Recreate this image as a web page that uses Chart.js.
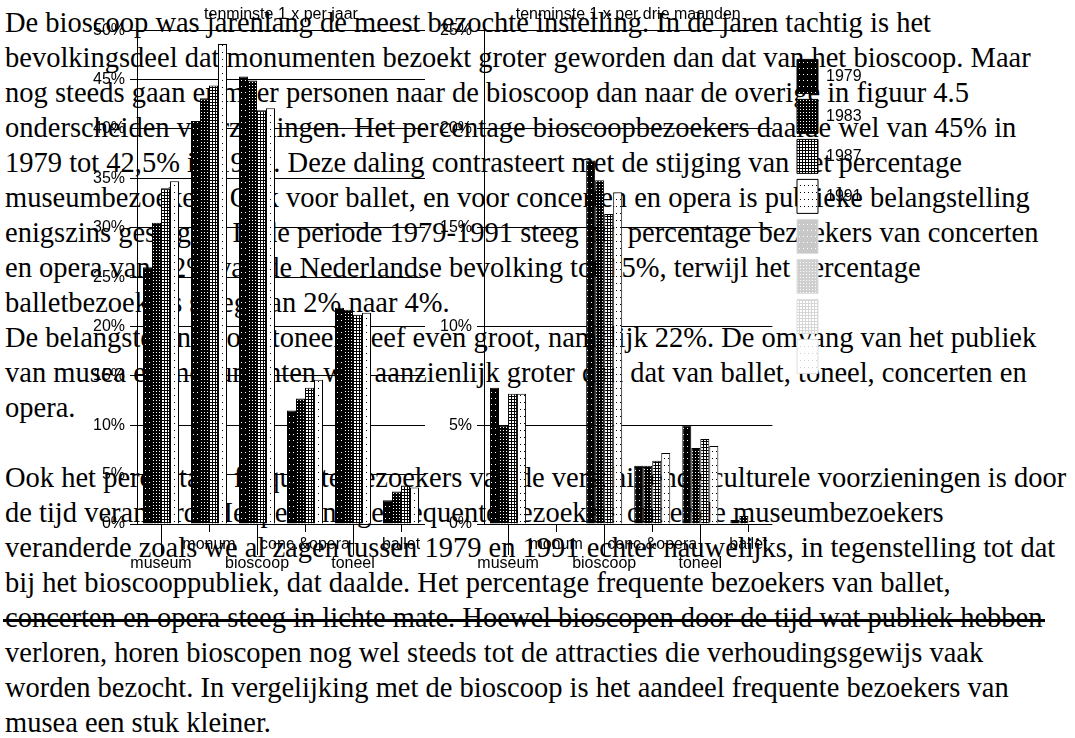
<!DOCTYPE html>
<html>
<head>
<meta charset="utf-8">
<script src="https://cdn.jsdelivr.net/npm/chart.js@4.4.0/dist/chart.umd.min.js"></script>
<style>
  body { margin: 0; background: #fff; width: 1075px; height: 738px; overflow: hidden; position: relative; }
  #tekst { position: absolute; left: 5px; top: 5px; font-family: 'Liberation Serif', 'Times New Roman', serif;
           font-size: 28.5px; line-height: 35px; color: #000; white-space: pre; }
  #streep { position: absolute; left: 3px; top: 619px; width: 1042px; height: 3px; background: #000; }
  canvas { position: absolute; top: 0; }
</style>
</head>
<body>
<div id="tekst">De bioscoop was jarenlang de meest bezochte instelling. In de jaren tachtig is het
bevolkingsdeel dat monumenten bezoekt groter geworden dan dat van het bioscoop. Maar
nog steeds gaan er meer personen naar de bioscoop dan naar de overige in figuur 4.5
onderscheiden voorzieningen. Het percentage bioscoopbezoekers daalde wel van 45% in
1979 tot 42,5% in 1991. Deze daling contrasteert met de stijging van het percentage
museumbezoekers. Ook voor ballet, en voor concerten en opera is publieke belangstelling
enigszins gestegen. In de periode 1979-1991 steeg het percentage bezoekers van concerten
en opera van 12% van de Nederlandse bevolking tot 15%, terwijl het percentage
balletbezoekers steeg van 2% naar 4%.
De belangstelling voor toneel bleef even groot, namelijk 22%. De omvang van het publiek
van musea en monumenten was aanzienlijk groter dan dat van ballet, toneel, concerten en
opera.

Ook het percentage frequente bezoekers van de verschillende culturele voorzieningen is door
de tijd veranderd. Het percentage frequente bezoekers onder de museumbezoekers
veranderde zoals we al zagen tussen 1979 en 1991 echter nauwelijks, in tegenstelling tot dat
bij het bioscooppubliek, dat daalde. Het percentage frequente bezoekers van ballet,
concerten en opera steeg in lichte mate. Hoewel bioscopen door de tijd wat publiek hebben
verloren, horen bioscopen nog wel steeds tot de attracties die verhoudingsgewijs vaak
worden bezocht. In vergelijking met de bioscoop is het aandeel frequente bezoekers van
musea een stuk kleiner.</div>
<div id="streep"></div>
<canvas id="jaar" width="360" height="590" style="left:80px"></canvas>
<canvas id="kwartaal" width="450" height="590" style="left:430px"></canvas>
<script>
// categorieen en jaren
const categories = ['museum', 'monum', 'bioscoop', 'conc.&opera', 'toneel', 'ballet'];
const years = ['1979', '1983', '1987', '1991'];

// tenminste 1 x per jaar (%)
const jaar1979 = [26.0, 40.8, 45.3, 11.5, 21.9, 2.4];
const jaar1983 = [30.5, 43.1, 44.9, 12.7, 21.7, 3.3];
const jaar1987 = [34.0, 44.4, 41.9, 13.8, 21.2, 3.9];
const jaar1991 = [34.7, 48.6, 42.1, 14.6, 21.4, 3.7];

// tenminste 1 x per drie maanden (%)
const kw1979 = [6.9, null, 18.4, 2.95, 5.0, 0.2];
const kw1983 = [5.0, null, 17.4, 2.95, 3.85, 0.4];
const kw1987 = [6.6, null, 15.7, 3.2, 4.3, 0];
const kw1991 = [6.6, null, 16.8, 3.6, 3.95, 0];

Chart.defaults.font.family = "'Liberation Sans', Arial, sans-serif";
Chart.defaults.font.size = 16;
Chart.defaults.color = '#000';

// small tiled fills that imitate the printed hatching
function pattern(w, h, bg, fg, dots) {
  const c = document.createElement('canvas');
  c.width = w; c.height = h;
  const g = c.getContext('2d');
  g.fillStyle = bg; g.fillRect(0, 0, w, h);
  g.fillStyle = fg;
  dots.forEach(d => g.fillRect(d[0], d[1], d[2] || 1, d[3] || 1));
  return g.createPattern(c, 'repeat');
}
const fills = [
  pattern(4, 6, '#000', '#fff', [[1, 2]]),
  pattern(3, 3, '#000', '#fff', [[1, 1]]),
  pattern(3, 3, '#000', '#fff', [[1, 1, 2, 2]]),
  pattern(4, 7, '#fff', '#000', [[2, 3]])
];
const faded = [
  pattern(4, 6, '#c8c8c8', '#fff', [[1, 2]]),
  pattern(3, 3, '#cfcfcf', '#fff', [[1, 1]]),
  pattern(3, 3, '#d6d6d6', '#fff', [[1, 1, 2, 2]]),
  pattern(4, 7, '#fff', '#d0d0d0', [[2, 3]])
];

// tick marks under the axis: long for the lower label row, short for the upper one
const xTicks = {
  id: 'xTicks',
  afterDraw(chart) {
    const x = chart.scales.x, ctx = chart.ctx, b = chart.chartArea.bottom;
    ctx.save();
    ctx.strokeStyle = '#000';
    ctx.lineWidth = 1;
    x.ticks.forEach((t, i) => {
      const px = Math.round(x.getPixelForTick(i)) + 0.5;
      ctx.beginPath();
      ctx.moveTo(px, b);
      ctx.lineTo(px, b + (i % 2 === 0 ? 31 : 8));
      ctx.stroke();
    });
    ctx.restore();
  }
};

// the legend sits a little to the right of the plot
const legendLeft = 361;
const legendShift = {
  id: 'legendShift',
  afterLayout(chart) {
    const lg = chart.legend;
    if (!lg || !lg.options.display) return;
    const w = lg.width;
    lg.left = legendLeft;
    lg.right = legendLeft + w;
  }
};

function makeChart(id, titleText, series, max, yWidth, padRight, withLegend) {
  return new Chart(document.getElementById(id), {
    type: 'bar',
    data: {
      labels: categories,
      datasets: series.map((d, i) => ({
        label: years[i],
        data: d,
        backgroundColor: fills[i],
        borderColor: '#000',
        borderWidth: 1,
        categoryPercentage: 0.75,
        barPercentage: 1
      }))
    },
    options: {
      responsive: false,
      animation: false,
      layout: { padding: { top: 0, right: padRight, bottom: 0, left: 0 } },
      plugins: {
        title: {
          display: true, text: titleText, fullSize: false, color: '#000',
          font: { size: 16, weight: 'normal' }, padding: { top: 5, bottom: 6 }
        },
        legend: withLegend ? {
          display: true, position: 'right', align: 'start', fullSize: false,
          title: { display: true, text: ' ', font: { size: 16 }, padding: { top: 0, bottom: 4 } },
          labels: {
            boxWidth: 21, boxHeight: 34, padding: 6, color: '#000', font: { size: 16 },
            generateLabels(chart) {
              const items = chart.data.datasets.map((ds, i) => ({
                text: ds.label, fillStyle: fills[i], strokeStyle: '#000', lineWidth: 1, hidden: false, datasetIndex: i
              }));
              faded.forEach(f => items.push({ text: '', fillStyle: f, strokeStyle: '#ddd', lineWidth: 1, hidden: false }));
              return items;
            }
          }
        } : { display: false },
        tooltip: { enabled: false }
      },
      scales: {
        x: {
          grid: { display: false, drawTicks: true, tickLength: 8 },
          border: { display: false },
          ticks: {
            autoSkip: false, maxRotation: 0, minRotation: 0, padding: 3,
            callback(v, i) { const l = categories[i]; return i % 2 === 0 ? ['', l] : l; }
          },
          afterFit(s) { s.height = 66; }
        },
        y: {
          min: 0, max: max,
          ticks: { stepSize: 5, padding: 5, callback: v => v + '%' },
          grid: { color: '#000', tickLength: 7 },
          border: { display: true, color: '#000' },
          afterFit(s) { s.width = yWidth; }
        }
      }
    },
    plugins: [xTicks, legendShift]
  });
}

makeChart('jaar', 'tenminste 1 x per jaar', [jaar1979, jaar1983, jaar1987, jaar1991], 50, 57, 15, false);
makeChart('kwartaal', 'tenminste 1 x per drie maanden', [kw1979, kw1983, kw1987, kw1991], 25, 54, 27, true);
</script>
</body>
</html>
